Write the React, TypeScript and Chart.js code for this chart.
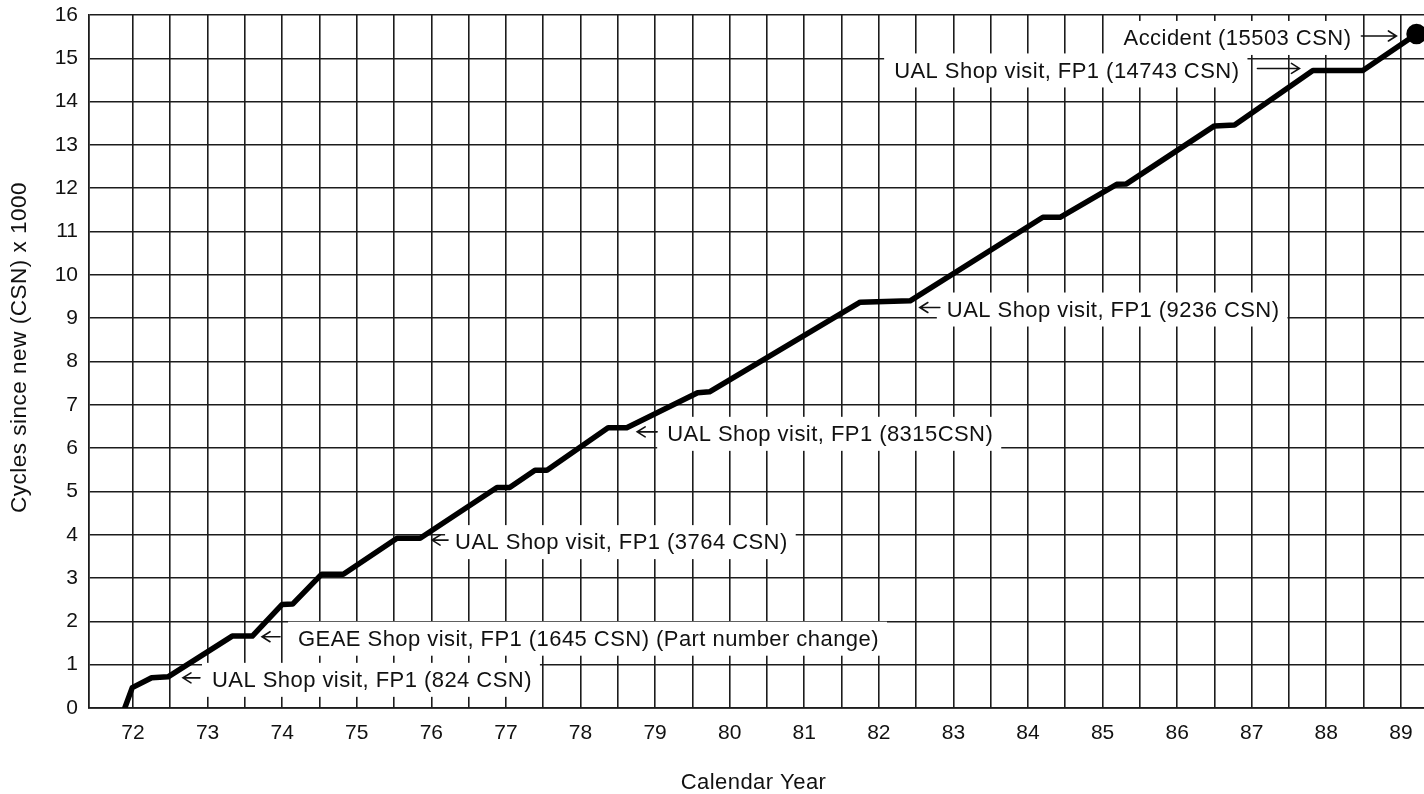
import React, { useEffect, useRef } from 'react';
import { Chart, registerables } from 'chart.js';

Chart.register(...registerables);

// ---- data ----
const YEARS = [
  71.89, 71.99, 72.25, 72.47, 73.33, 73.6, 74.0, 74.14, 74.53, 74.82, 75.54, 75.85,
  76.88, 77.05, 77.39, 77.55, 78.37, 78.62, 79.57, 79.73, 81.75, 82.42, 84.2, 84.43,
  85.19, 85.32, 86.5, 86.77, 87.82, 88.49, 89.21,
];
const CSN_THOUSANDS = [
  0, 0.47, 0.7, 0.72, 1.66, 1.66, 2.39, 2.4, 3.09, 3.09, 3.92, 3.92,
  5.09, 5.09, 5.49, 5.49, 6.47, 6.47, 7.28, 7.3, 9.37, 9.4, 11.33, 11.33,
  12.09, 12.1, 13.44, 13.46, 14.72, 14.72, 15.56,
];

const YEAR_TICK_LABELS = ['72', '73', '74', '75', '76', '77', '78', '79', '80', '81', '82', '83', '84', '85', '86', '87', '88', '89'];
const CSN_TICK_LABELS = ['0', '1', '2', '3', '4', '5', '6', '7', '8', '9', '10', '11', '12', '13', '14', '15', '16'];

const NOTE_TEXTS = [
  'UAL Shop visit, FP1 (824 CSN)',
  'GEAE Shop visit, FP1 (1645 CSN) (Part number change)',
  'UAL Shop visit, FP1 (3764 CSN)',
  'UAL Shop visit, FP1 (8315CSN)',
  'UAL Shop visit, FP1 (9236 CSN)',
  'UAL Shop visit, FP1 (14743 CSN)',
  'Accident (15503 CSN)',
];
const NOTE_YEARS = [72.67, 73.73, 76.01, 78.76, 82.55, 87.64, 88.94];
const NOTE_VALUES = [0.65, 1.6, 3.83, 6.33, 9.2, 14.72, 15.47];
const NOTE_DIRS = ['left', 'left', 'left', 'left', 'left', 'right', 'right'];

const X_TITLE = 'Calendar Year';
const Y_TITLE = 'Cycles since new (CSN) x 1000';

// ---- styling ----
const FONT = '"Liberation Sans", Arial, Helvetica, sans-serif';
const INK = '#111111';
const GRID = '#1c1c1c';
const ARROW_LEN = [17, 18, 16, 20, 20, 42, 35];
const ARROW_GAP = [12, 18, 7, 10, 7, 18, 10];

const notesPlugin = {
  id: 'notes',
  beforeDatasetsDraw(chart: any) {
    const { ctx, scales } = chart;
    const xs = scales.x;
    const ys = scales.y;
    ctx.save();
    ctx.font = `22px ${FONT}`;
    (ctx as any).letterSpacing = '0.45px';
    ctx.textBaseline = 'middle';
    ctx.textAlign = 'left';
    NOTE_TEXTS.forEach((text, i) => {
      const tipX = xs.getPixelForValue(NOTE_YEARS[i]);
      const cy = ys.getPixelForValue(NOTE_VALUES[i]);
      const w = ctx.measureText(text).width;
      const dir = NOTE_DIRS[i];
      let tailX: number;
      let textX: number;
      if (dir === 'left') {
        tailX = tipX + ARROW_LEN[i];
        textX = tailX + ARROW_GAP[i];
      } else {
        tailX = tipX - ARROW_LEN[i];
        textX = tailX - ARROW_GAP[i] - w;
      }
      ctx.fillStyle = '#ffffff';
      ctx.fillRect(textX - 10, cy - 17, w + 18, 34);
      ctx.fillStyle = INK;
      ctx.fillText(text, textX, cy + 1);
      // arrow
      const ay = cy - 2;
      const s = dir === 'left' ? 1 : -1;
      ctx.strokeStyle = INK;
      ctx.lineWidth = 1.6;
      ctx.lineCap = 'round';
      ctx.beginPath();
      ctx.moveTo(tailX, ay);
      ctx.lineTo(tipX, ay);
      ctx.moveTo(tipX + s * 8, ay - 5);
      ctx.lineTo(tipX, ay);
      ctx.lineTo(tipX + s * 8, ay + 5);
      ctx.stroke();
    });
    ctx.restore();
  },
  afterDraw(chart: any) {
    const { ctx, chartArea } = chart;
    ctx.save();
    ctx.fillStyle = INK;
    ctx.textAlign = 'center';
    ctx.textBaseline = 'middle';
    ctx.font = `22px ${FONT}`;
    (ctx as any).letterSpacing = '0.45px';
    ctx.fillText(X_TITLE, (chartArea.left + chartArea.right) / 2 - 3, chartArea.bottom + 75);
    ctx.font = `22.5px ${FONT}`;
    (ctx as any).letterSpacing = '0.5px';
    ctx.translate(chartArea.left - 69, (chartArea.top + chartArea.bottom) / 2 - 14);
    ctx.rotate(-Math.PI / 2);
    ctx.fillText(Y_TITLE, 0, 0);
    ctx.restore();
  },
};

export default function App() {
  const canvasRef = useRef<HTMLCanvasElement | null>(null);

  useEffect(() => {
    const canvas = canvasRef.current;
    if (!canvas) return;
    const points = YEARS.map((yr, i) => ({ x: yr, y: CSN_THOUSANDS[i] }));
    const lastIdx = points.length - 1;
    const gridTicks: number[] = [];
    YEAR_TICK_LABELS.forEach((lbl, i) => {
      const v = Number(lbl);
      gridTicks.push(v);
      if (i < YEAR_TICK_LABELS.length - 1) gridTicks.push(v + 0.5);
    });

    const chart = new Chart(canvas, {
      type: 'line',
      data: {
        datasets: [
          {
            data: points,
            borderColor: '#000000',
            backgroundColor: '#000000',
            borderWidth: 5.5,
            borderJoinStyle: 'round',
            borderCapStyle: 'round',
            tension: 0,
            pointRadius: points.map((_, i) => (i === lastIdx ? 7.5 : 0)),
            pointHoverRadius: 0,
            fill: false,
          },
        ],
      },
      options: {
        animation: false,
        responsive: true,
        maintainAspectRatio: false,
        events: [],
        layout: { autoPadding: false, padding: { top: 15, right: 0, bottom: 0, left: 0 } },
        plugins: {
          legend: { display: false },
          tooltip: { enabled: false },
          title: { display: false },
        },
        scales: {
          x: {
            type: 'linear',
            min: 71.41,
            max: 89.31,
            afterFit: (scale: any) => {
              scale.height = 86;
              scale.paddingLeft = 0;
              scale.paddingRight = 0;
            },
            afterBuildTicks: (scale: any) => {
              scale.ticks = gridTicks.map((v) => ({ value: v }));
            },
            ticks: {
              autoSkip: false,
              maxRotation: 0,
              padding: 13,
              color: INK,
              font: { family: FONT, size: 21 },
              callback: (value: any) => {
                const idx = YEAR_TICK_LABELS.indexOf(String(value));
                return idx >= 0 ? YEAR_TICK_LABELS[idx] : '';
              },
            },
            grid: {
              color: GRID,
              lineWidth: 1.6,
              drawTicks: false,
            },
            border: { display: true, color: GRID, width: 1.8 },
          },
          y: {
            type: 'linear',
            min: 0,
            max: 16,
            afterFit: (scale: any) => {
              scale.width = 89;
              scale.paddingTop = 0;
              scale.paddingBottom = 0;
            },
            ticks: {
              stepSize: 1,
              autoSkip: false,
              padding: 11,
              color: INK,
              font: { family: FONT, size: 21 },
              callback: (value: any) => {
                const idx = CSN_TICK_LABELS.indexOf(String(value));
                return idx >= 0 ? CSN_TICK_LABELS[idx] : '';
              },
            },
            grid: {
              color: GRID,
              lineWidth: 1.6,
              drawTicks: false,
            },
            border: { display: true, color: GRID, width: 1.8 },
          },
        },
      },
      plugins: [notesPlugin],
    } as any);

    return () => {
      chart.destroy();
    };
  }, []);

  return (
    <div
      style={{
        position: 'fixed',
        left: 0,
        top: 0,
        width: 1424,
        height: 794,
        background: '#ffffff',
      }}
    >
      <canvas ref={canvasRef} />
    </div>
  );
}
